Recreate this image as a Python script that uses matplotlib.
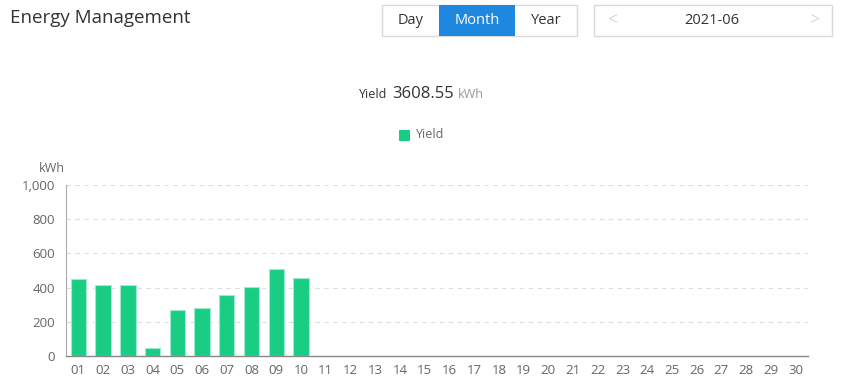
import numpy as np
import matplotlib.pyplot as plt
from matplotlib.patches import Rectangle

# Daily yield for June 2021 (kWh), only first 10 days have data
days = [f"{d:02d}" for d in range(1, 31)]
yield_kwh = [452, 417, 413, 47, 271, 283, 359, 401, 508, 458]
total_yield = "3608.55"
y_ticks = [0, 200, 400, 600, 800, 1000]
y_tick_labels = ["0", "200", "400", "600", "800", "1,000"]

plt.rcParams['font.family'] = ['Open Sans', 'DejaVu Sans']

W, H = 844, 380
fig = plt.figure(figsize=(W / 100, H / 100), dpi=100)

# bar chart area
ax = fig.add_axes([66 / W, 1 - 356 / H, (808 - 66) / W, (356 - 185) / H])
x = np.arange(len(days))
ax.bar(x[:len(yield_kwh)], yield_kwh, width=0.62, color='#19cd84',
       edgecolor='#9eead0', linewidth=0.8, zorder=3)
ax.set_xlim(-0.5, len(days) - 0.5)
ax.set_ylim(0, 1000)
ax.set_xticks(x)
ax.set_xticklabels(days)
ax.set_yticks(y_ticks)
ax.set_yticklabels(y_tick_labels)
ax.tick_params(axis='both', length=0, labelsize=9.5, labelcolor='#666666')
ax.tick_params(axis='x', pad=6)
ax.tick_params(axis='y', pad=8)
for v in y_ticks[1:]:
    ax.axhline(v, color='#dddddd', linestyle=(0, (4, 4)), linewidth=0.8, zorder=1)
for side in ['top', 'right']:
    ax.spines[side].set_visible(False)
ax.spines['left'].set_color('#aaaaaa')
ax.spines['bottom'].set_color('#888888')
ax.spines['left'].set_linewidth(0.8)
ax.spines['bottom'].set_linewidth(1.0)

def px(xp, yp):
    return xp / W, 1 - yp / H

# unit label
fig.text(*px(52, 168), "kWh", ha='center', va='center', fontsize=9, color='#666666')

# header
fig.text(*px(10, 18), "Energy Management", ha='left', va='center', fontsize=13.5, color='#333333')

# Day / Month / Year toggle
fig.add_artist(Rectangle(px(382, 36), 195 / W, 31 / H, transform=fig.transFigure,
                         facecolor='white', edgecolor='#d9d9d9', linewidth=1))
fig.add_artist(Rectangle(px(439, 36), 76 / W, 31 / H, transform=fig.transFigure,
                         facecolor='#1e88e0', edgecolor='none'))
fig.text(*px(411, 20), "Day", ha='center', va='center', fontsize=10.5, color='#333333')
fig.text(*px(477, 20), "Month", ha='center', va='center', fontsize=10.5, color='white')
fig.text(*px(546, 20), "Year", ha='center', va='center', fontsize=10.5, color='#333333')

# date picker
fig.add_artist(Rectangle(px(594, 36), 238 / W, 31 / H, transform=fig.transFigure,
                         facecolor='white', edgecolor='#d9d9d9', linewidth=1))
fig.text(*px(613, 20), "<", ha='center', va='center', fontsize=13, color='#c8c8c8',
         fontweight='light')
fig.text(*px(815, 20), ">", ha='center', va='center', fontsize=13, color='#c8c8c8',
         fontweight='light')
fig.text(*px(712, 20), "2021-06", ha='center', va='center', fontsize=10.5, color='#333333')

# total yield line
fig.text(*px(387, 95), "Yield", ha='right', va='center', fontsize=9, color='#333333')
fig.text(*px(392, 94), total_yield, ha='left', va='center', fontsize=12, color='#333333')
fig.text(*px(458, 95), "kWh", ha='left', va='center', fontsize=9, color='#999999')

# legend
fig.add_artist(Rectangle(px(399, 141), 11 / W, 11 / H, transform=fig.transFigure,
                         facecolor='#19cd84', edgecolor='none'))
fig.text(*px(416, 135), "Yield", ha='left', va='center', fontsize=9, color='#666666')

fig.savefig("out.png", dpi=100)
